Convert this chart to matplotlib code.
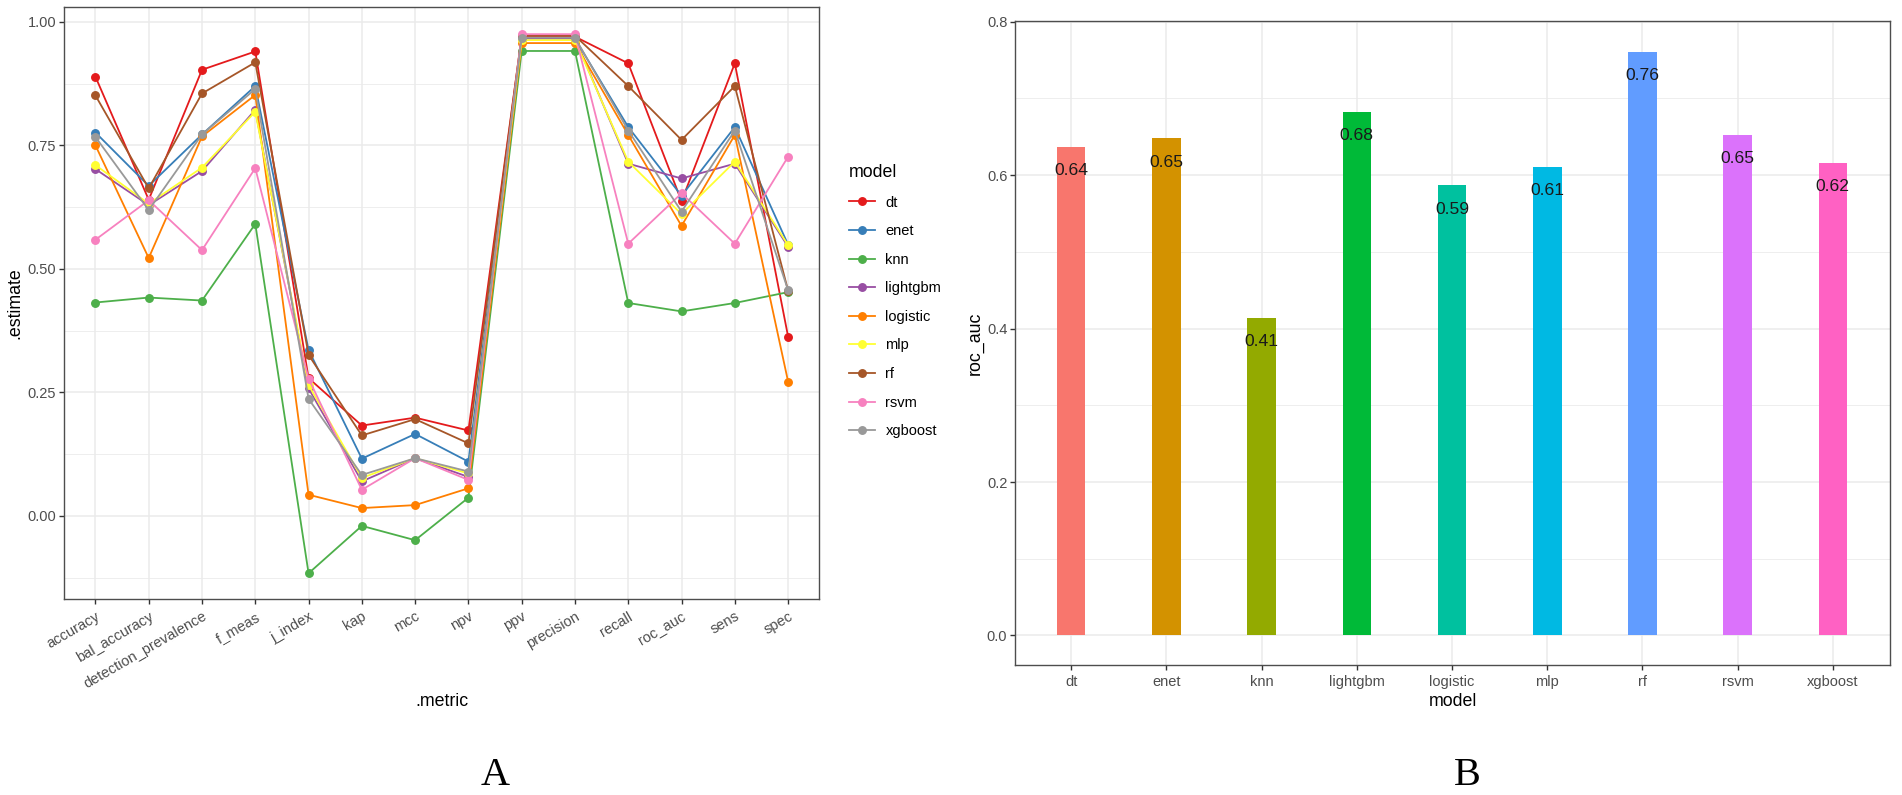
import matplotlib
matplotlib.use("Agg")
import matplotlib.pyplot as plt
import numpy as np

# panel A: metric estimates per model
metrics = ["accuracy", "bal_accuracy", "detection_prevalence", "f_meas", "j_index",
           "kap", "mcc", "npv", "ppv", "precision", "recall", "roc_auc", "sens", "spec"]
dt = [0.889, 0.640, 0.903, 0.940, 0.279, 0.183, 0.199, 0.173, 0.970, 0.970, 0.916, 0.637, 0.916, 0.363]
enet = [0.776, 0.668, 0.772, 0.870, 0.336, 0.116, 0.166, 0.110, 0.966, 0.966, 0.787, 0.648, 0.787, 0.549]
knn = [0.432, 0.442, 0.436, 0.591, -0.116, -0.020, -0.049, 0.037, 0.941, 0.941, 0.431, 0.414, 0.431, 0.453]
lightgbm = [0.702, 0.629, 0.698, 0.822, 0.258, 0.070, 0.117, 0.079, 0.967, 0.967, 0.713, 0.683, 0.713, 0.545]
logistic = [0.750, 0.522, 0.768, 0.852, 0.043, 0.016, 0.022, 0.056, 0.957, 0.957, 0.771, 0.587, 0.771, 0.272]
mlp = [0.710, 0.632, 0.705, 0.818, 0.265, 0.077, 0.117, 0.086, 0.963, 0.963, 0.717, 0.611, 0.717, 0.548]
rf = [0.851, 0.663, 0.855, 0.918, 0.326, 0.163, 0.196, 0.147, 0.972, 0.972, 0.870, 0.761, 0.870, 0.456]
rsvm = [0.559, 0.639, 0.538, 0.704, 0.278, 0.053, 0.117, 0.073, 0.975, 0.975, 0.551, 0.653, 0.551, 0.727]
xgboost = [0.767, 0.619, 0.772, 0.864, 0.237, 0.083, 0.117, 0.090, 0.968, 0.968, 0.780, 0.616, 0.780, 0.457]

models = ["dt", "enet", "knn", "lightgbm", "logistic", "mlp", "rf", "rsvm", "xgboost"]
series = [dt, enet, knn, lightgbm, logistic, mlp, rf, rsvm, xgboost]
line_colors = ["#E41A1C", "#377EB8", "#4DAF4A", "#984EA3", "#FF7F00",
               "#FFFF33", "#A65628", "#F781BF", "#999999"]

# panel B: roc_auc per model
roc_auc = [0.637, 0.648, 0.414, 0.683, 0.587, 0.611, 0.761, 0.653, 0.616]
bar_colors = ["#F8766D", "#D39200", "#93AA00", "#00BA38", "#00C19F",
              "#00B9E3", "#619CFF", "#DB72FB", "#FF61C3"]

W, H = 1902, 795
plt.rcParams["font.family"] = ["Liberation Sans", "DejaVu Sans"]
fig = plt.figure(figsize=(W / 100, H / 100), dpi=100)

GRID = "#EBEBEB"
BORDER = "#4D4D4D"
TICKC = "#4D4D4D"


def style(ax):
    ax.set_facecolor("white")
    ax.grid(True, which="major", color=GRID, lw=1.1, zorder=0)
    ax.grid(True, which="minor", axis="y", color=GRID, lw=0.6, zorder=0)
    ax.set_axisbelow(True)
    for s in ax.spines.values():
        s.set_color(BORDER)
        s.set_linewidth(1.0)
    ax.tick_params(which="major", length=3.5, width=1.0, color="#333333",
                   labelcolor=TICKC, labelsize=10.5, pad=2)
    ax.tick_params(which="minor", length=0)


# ---- panel A
axA = fig.add_axes([64 / W, 1 - 599 / H, 755 / W, 592 / H])
style(axA)
x = np.arange(len(metrics))
for name, vals, col in zip(models, series, line_colors):
    axA.plot(x, vals, color=col, lw=1.3, marker="o", ms=5.4, label=name, zorder=3)
axA.set_xlim(-0.59, 13.58)
axA.set_ylim(-0.168, 1.030)
axA.set_yticks([0.0, 0.25, 0.5, 0.75, 1.0])
axA.set_yticklabels(["0.00", "0.25", "0.50", "0.75", "1.00"])
axA.set_yticks([-0.125, 0.125, 0.375, 0.625, 0.875], minor=True)
axA.set_xticks(x)
axA.set_xticklabels(metrics, rotation=30, ha="right", va="top",
                    rotation_mode="anchor")
axA.tick_params(axis="x", pad=4)

leg = axA.legend(loc="upper left", bbox_to_anchor=(849 / W, 1 - 164 / H),
                 bbox_transform=fig.transFigure, frameon=False, title="model",
                 fontsize=10.5, title_fontsize=12.8, handlelength=1.75,
                 handletextpad=0.75, labelspacing=1.0, numpoints=1,
                 alignment="left", borderaxespad=0, borderpad=0)

fig.text(442 / W, 1 - 702 / H, ".metric", ha="center", va="center", fontsize=12.8)
fig.text(15 / W, 1 - 303 / H, ".estimate", ha="center", va="center",
         rotation=90, fontsize=12.8)

# ---- panel B
axB = fig.add_axes([1015 / W, 1 - 665 / H, 875 / W, 644 / H])
style(axB)
xb = np.arange(len(models))
axB.bar(xb, roc_auc, width=0.3, color=bar_colors, zorder=2)
for xi, v in zip(xb, roc_auc):
    axB.annotate(f"{v:.2f}", (xi, v), xytext=(0, -24), textcoords="offset pixels",
                 ha="center", va="center", fontsize=12.6, color="#1a1a1a", zorder=4)
axB.set_xlim(-0.59, 8.6)
axB.set_ylim(-0.0385, 0.801)
axB.set_yticks([0.0, 0.2, 0.4, 0.6, 0.8])
axB.set_yticks([0.1, 0.3, 0.5, 0.7], minor=True)
axB.set_xticks(xb)
axB.set_xticklabels(models)
axB.tick_params(axis="x", pad=4)

fig.text(1453 / W, 1 - 702 / H, "model", ha="center", va="center", fontsize=12.8)
fig.text(975 / W, 1 - 343 / H, "roc_auc", ha="center", va="center",
         rotation=90, fontsize=12.8)

# panel letters
fig.text(495 / W, 1 - 785 / H, "A", ha="center", va="baseline", fontsize=29,
         family=["Liberation Serif", "DejaVu Serif"])
fig.text(1467 / W, 1 - 785 / H, "B", ha="center", va="baseline", fontsize=29,
         family=["Liberation Serif", "DejaVu Serif"])

fig.savefig("out.png", dpi=100)
